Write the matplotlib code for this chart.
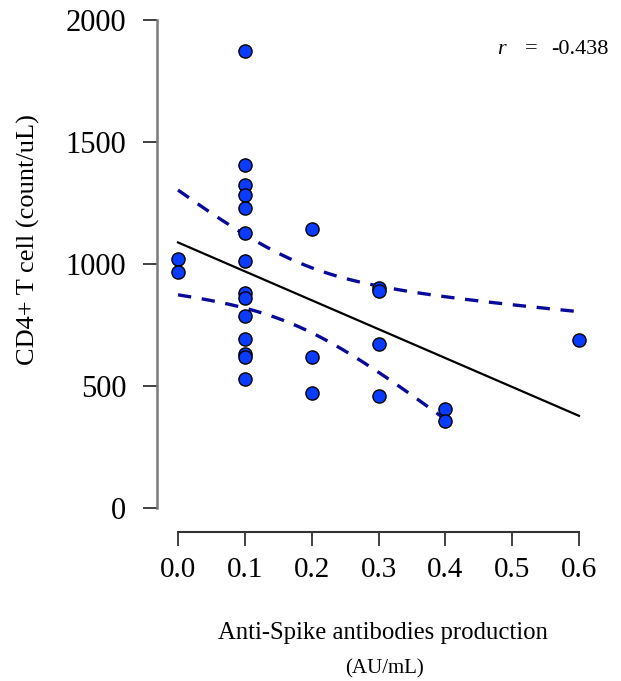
import matplotlib.pyplot as plt
import numpy as np

# ============================================
# DATA
# ============================================
antibody = [0.0, 0.0,
            0.1, 0.1, 0.1, 0.1, 0.1, 0.1, 0.1, 0.1, 0.1, 0.1, 0.1, 0.1, 0.1, 0.1,
            0.2, 0.2, 0.2,
            0.3, 0.3, 0.3, 0.3,
            0.4, 0.4,
            0.6]
cd4 = [1020, 967,
       1873, 1406, 1324, 1283, 1230, 1127, 1012, 881, 861, 787, 693, 632, 620, 529,
       1143, 619, 471,
       900, 888, 672, 459,
       406, 357,
       689]
r_text = '-0.438'
x_ticks = [0.0, 0.1, 0.2, 0.3, 0.4, 0.5, 0.6]
y_ticks = [0, 500, 1000, 1500, 2000]

# ============================================
# STYLE
# ============================================
SERIF = 'Liberation Serif'
POINT_COLOR = '#0a3cff'
BAND_COLOR = '#0a0a9a'

W, H = 621, 681
fig = plt.figure(figsize=(W / 100, H / 100), dpi=100)
# axes box in pixels: left 157, right 600, top 0, bottom 532
ax = fig.add_axes([157 / W, 1 - 532 / H, (600 - 157) / W, 532 / H])

x = np.array(antibody)
y = np.array(cd4, dtype=float)

# linear fit and 95% confidence band of the mean
n = len(x)
slope, icpt = np.polyfit(x, y, 1)
resid = y - (slope * x + icpt)
s = np.sqrt(np.sum(resid ** 2) / (n - 2))
sxx = np.sum((x - x.mean()) ** 2)
t = 2.064  # t(0.975, df=24)
grid = np.linspace(0.0, 0.6, 200)
fit = slope * grid + icpt
half = t * s * np.sqrt(1 / n + (grid - x.mean()) ** 2 / sxx)
low_mask = grid <= 0.4

ax.plot(grid, fit, color='black', linewidth=1.6, zorder=2)
ax.plot(grid, fit + half, color=BAND_COLOR, linewidth=2.4,
        dashes=(4, 3.2), zorder=2)
ax.plot(grid[low_mask], (fit - half)[low_mask], color=BAND_COLOR,
        linewidth=2.4, dashes=(4, 3.2), zorder=2)

ax.scatter(x, y, s=90, color=POINT_COLOR, edgecolor='black',
           linewidth=1.0, zorder=3)

# ============================================
# AXES (R base-graphics look)
# ============================================
px_x = 0.1 / 66.8
ax.set_xlim(0.0 - 21 * px_x, 0.6 + 21 * px_x)
px_y = 500 / 122
ax.set_ylim(0 - 24 * px_y, 2000 + 20 * px_y)

for side in ['top', 'right']:
    ax.spines[side].set_visible(False)
ax.spines['left'].set_bounds(0, 2000)
ax.spines['left'].set_color('#7a7a7a')
ax.spines['left'].set_linewidth(1.8)
ax.spines['bottom'].set_bounds(0, 0.6)
ax.spines['bottom'].set_color('#333333')
ax.spines['bottom'].set_linewidth(1.5)

ax.set_xticks(x_ticks)
ax.set_xticklabels([f'{v:.1f}' for v in x_ticks])
ax.set_yticks(y_ticks)
ax.set_yticklabels([str(v) for v in y_ticks])
ax.tick_params(axis='x', length=10, width=1.3, color='#333333', pad=8,
               labelsize=21)
ax.tick_params(axis='y', length=10, width=1.3, color='#333333', pad=12,
               labelsize=22)
for lab in ax.get_xticklabels() + ax.get_yticklabels():
    lab.set_family(SERIF)

fig.text(28 / W, 1 - 240 / H, 'CD4+ T cell (count/uL)', rotation=90,
         ha='center', va='center', fontsize=19, family=SERIF)
fig.text(383 / W, 1 - 633 / H, 'Anti-Spike antibodies production',
         ha='center', va='center', fontsize=17.8, family=SERIF)
fig.text(385 / W, 1 - 669 / H, '(AU/mL)',
         ha='center', va='center', fontsize=15, family=SERIF)

fig.text(497 / W, 1 - 49 / H, 'r', ha='left', va='center', fontsize=16,
         family=SERIF, style='italic')
fig.text(531 / W, 1 - 49 / H, '=', ha='center', va='center', fontsize=16,
         family=SERIF)
fig.text(609 / W, 1 - 49 / H, r_text, ha='right', va='center', fontsize=16,
         family=SERIF)

fig.savefig('out.png', dpi=100, facecolor='white')
plt.close(fig)
